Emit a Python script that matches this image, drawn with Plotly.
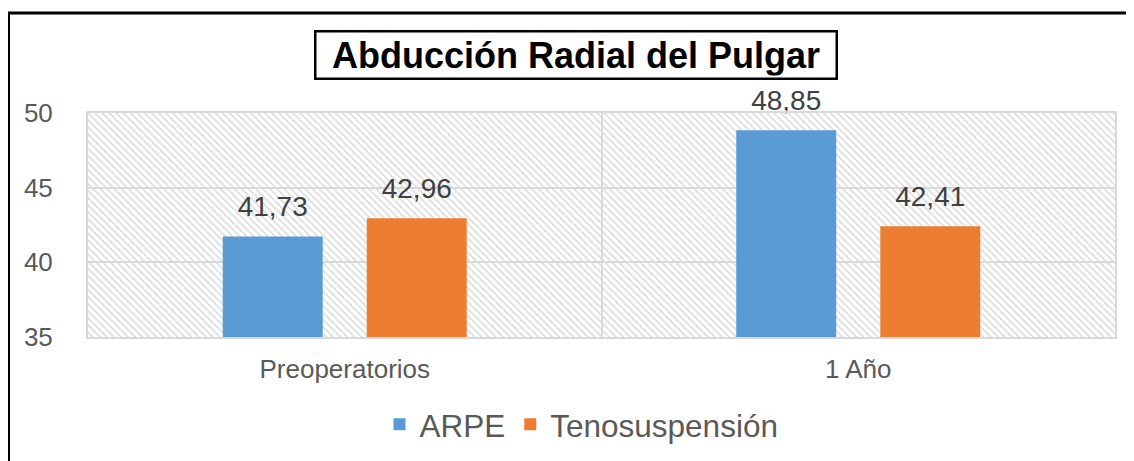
import plotly.graph_objects as go

categories = ["Preoperatorios", "1 Año"]
series_names = ["ARPE", "Tenosuspensión"]
arpe = [41.73, 48.85]
tenosuspension = [42.96, 42.41]
series_values = [arpe, tenosuspension]
series_colors = ["#5B9BD5", "#ED7D31"]
y_ticks = [35, 40, 45, 50]
title_text = "Abducción Radial del Pulgar"

FONT = "Liberation Sans, Arial, sans-serif"

fig = go.Figure()

# hatched plot-area background (decorative)
fig.add_trace(go.Bar(
    x=[0.5], y=[y_ticks[-1] - y_ticks[0]], base=[y_ticks[0]], width=[1],
    xaxis="x", yaxis="y",
    marker=dict(color="rgba(0,0,0,0)", line=dict(width=0),
                pattern=dict(shape="\\", fgcolor="#dadada", bgcolor="rgba(0,0,0,0)",
                             size=5, solidity=0.3, fillmode="replace")),
    showlegend=False, hoverinfo="skip",
))

for name, vals, col in zip(series_names, series_values, series_colors):
    fig.add_trace(go.Bar(
        x=categories, y=vals, name=name, xaxis="x2", yaxis="y",
        marker=dict(color=col, line=dict(width=0)),
        offsetgroup=name,
    ))

for name, vals in zip(series_names, series_values):
    fig.add_trace(go.Scatter(
        x=categories, y=vals, xaxis="x2", yaxis="y",
        mode="markers+text", offsetgroup=name,
        marker=dict(size=20, opacity=0),
        text=[f"{v:.2f}".replace(".", ",") for v in vals],
        textposition="top center",
        textfont=dict(family=FONT, size=28, color="#404040"),
        showlegend=False, hoverinfo="skip", cliponaxis=False,
    ))

fig.update_layout(
    width=1134, height=461, autosize=False,
    margin=dict(l=80, r=27, t=105, b=132),
    paper_bgcolor="white", plot_bgcolor="white",
    barmode="group", bargap=0.439, bargroupgap=0.306,
    scattermode="group", scattergap=0.439,
    separators=",.",
    font=dict(family=FONT, color="#595959"),
    xaxis=dict(range=[0, 1], visible=False, fixedrange=True),
    xaxis2=dict(
        overlaying="x", anchor="y", side="bottom",
        type="category", categoryorder="array", categoryarray=categories,
        tickson="boundaries", showgrid=True, gridcolor="#d9d9d9", gridwidth=2,
        showline=True, linecolor="#d9d9d9", linewidth=2, mirror=True,
        ticks="", tickfont=dict(family=FONT, size=26, color="#595959"),
        ticklabelstandoff=8,
    ),
    yaxis=dict(
        range=[y_ticks[0], y_ticks[-1]], tickvals=y_ticks,
        showgrid=True, gridcolor="#d9d9d9", gridwidth=2,
        showline=True, linecolor="#d9d9d9", linewidth=2, mirror=True,
        zeroline=False, ticks="",
        tickfont=dict(family=FONT, size=26, color="#595959"),
        ticklabelstandoff=28,
    ),
    legend=dict(
        orientation="h", x=0.4805, xanchor="center", y=-0.39, yanchor="middle",
        font=dict(family=FONT, size=31.5, color="#595959"),
        traceorder="normal", bgcolor="rgba(0,0,0,0)",
    ),
    annotations=[dict(
        text=f"<b>{title_text}</b>", xref="paper", yref="paper",
        x=0.4747, y=1.261, xanchor="center", yanchor="middle",
        showarrow=False, font=dict(family=FONT, size=36, color="black"),
        bordercolor="black", borderwidth=2.5, borderpad=2,
        width=515, height=41, bgcolor="white",
    )],
    shapes=[dict(
        type="rect", xref="paper", yref="paper",
        x0=-0.0774, x1=1.03, y0=-0.62, y1=1.446,
        line=dict(color="black", width=3), fillcolor="rgba(0,0,0,0)", layer="below",
    )],
)

fig.write_html("out.html")
